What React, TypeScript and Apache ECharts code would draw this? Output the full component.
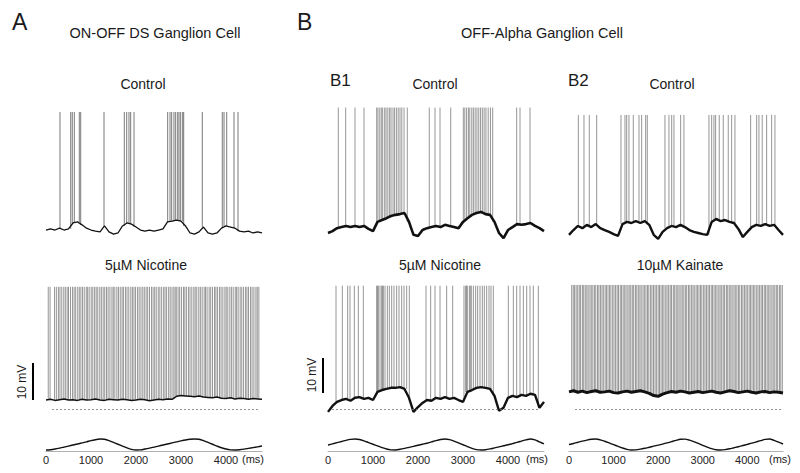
import React, { useEffect, useRef } from "react";
import * as echarts from "echarts";

// ---- time base ----
const T_MAX = 4800; // ms shown on every trace
const BASE_STEP = 100; // ms between membrane-potential samples
const TICKS = [0, 1000, 2000, 3000, 4000];

// ---- A: ON-OFF DS ganglion cell ----
const aCtrlSpikes = [311, 549, 584, 629, 740, 771, 1289, 1740, 1793, 1844, 1882, 1956, 2704, 2756, 2793, 2844, 2882, 2927, 2956, 2993, 3038, 3060, 3473, 3918, 3956, 4016, 4178, 4267];
const aCtrlBase = [5.4, 5.7, 5.4, 5.9, 5.4, 5.7, 7.3, 7.6, 6.8, 5.9, 5.4, 5.1, 4.9, 6.5, 4.9, 4.3, 4.6, 6.5, 7.3, 7.0, 6.2, 5.4, 5.1, 5.4, 5.1, 5.4, 5.7, 7.6, 7.8, 8.1, 7.8, 6.5, 4.6, 4.3, 4.9, 6.2, 4.6, 4.3, 4.6, 5.9, 6.5, 6.2, 5.9, 5.1, 4.9, 5.1, 4.6, 4.9, 4.6];
const aCtrlPeak = 37.3;

const aNicSpikes = [50, 90, 190, 230, 275, 310, 350, 395, 430, 470, 500, 545, 590, 625, 660, 705, 740, 775, 812, 850, 895, 925, 960, 1005, 1040, 1080, 1115, 1150, 1195, 1230, 1270, 1305, 1345, 1380, 1420, 1465, 1495, 1530, 1575, 1610, 1650, 1690, 1720, 1765, 1800, 1840, 1885, 1920, 1955, 1990, 2035, 2070, 2110, 2150, 2185, 2225, 2260, 2300, 2345, 2380, 2415, 2450, 2495, 2530, 2570, 2615, 2645, 2680, 2725, 2760, 2800, 2840, 2870, 2895, 2935, 2970, 3010, 3055, 3085, 3120, 3165, 3200, 3240, 3285, 3315, 3350, 3395, 3430, 3470, 3515, 3545, 3580, 3625, 3660, 3700, 3745, 3775, 3810, 3855, 3890, 3930, 3975, 4005, 4040, 4085, 4120, 4160, 4205, 4235, 4270, 4315, 4350, 4390, 4435, 4465, 4500, 4545, 4580, 4620, 4665, 4695, 4730];
const aNicBase = [2.4, 2.6, 2.3, 2.5, 2.7, 2.4, 2.5, 2.3, 2.6, 2.4, 2.5, 2.7, 2.4, 2.3, 2.6, 2.5, 2.4, 2.6, 2.5, 2.3, 2.4, 2.6, 2.5, 2.2, 2.4, 2.6, 2.5, 2.7, 2.6, 3.4, 3.6, 3.5, 3.4, 3.3, 3.5, 3.2, 3.1, 3.0, 3.2, 2.9, 2.8, 3.0, 2.7, 2.9, 2.8, 2.6, 2.8, 2.7, 2.6];
const aNicPeak = 33.0;
const aNicRest = [133, 4755];

const aStim = [0.08, 0.1, 0.15, 0.22, 0.3, 0.38, 0.46, 0.54, 0.62, 0.7, 0.8, 0.87, 0.92, 0.9, 0.8, 0.66, 0.52, 0.38, 0.24, 0.13, 0.08, 0.09, 0.15, 0.22, 0.3, 0.38, 0.46, 0.54, 0.62, 0.7, 0.78, 0.85, 0.9, 0.92, 0.9, 0.8, 0.66, 0.52, 0.38, 0.25, 0.15, 0.09, 0.08, 0.1, 0.14, 0.2, 0.26, 0.32, 0.38];

// ---- B1: OFF-alpha cell, control / nicotine ----
const b1CtrlSpikes = [229, 393, 600, 800, 1082, 1110, 1150, 1185, 1215, 1260, 1290, 1330, 1370, 1400, 1445, 1480, 1520, 1560, 1600, 1640, 1690, 1762, 2251, 2378, 2489, 2727, 3007, 3040, 3080, 3120, 3150, 3195, 3230, 3270, 3310, 3350, 3390, 3430, 3470, 3510, 3560, 3610, 3660, 4193, 4267, 4489];
const b1CtrlBase = [4.6, 5.1, 5.9, 6.2, 6.5, 6.2, 6.5, 6.2, 6.5, 5.7, 5.1, 7.6, 8.1, 8.6, 9.2, 9.5, 9.7, 10.0, 7.6, 4.1, 3.8, 5.4, 5.9, 6.2, 6.5, 6.2, 6.8, 6.5, 6.2, 5.9, 7.6, 8.6, 9.5, 10.0, 10.3, 9.7, 9.5, 7.6, 4.6, 3.2, 5.4, 6.2, 7.0, 6.8, 7.0, 7.3, 6.5, 5.9, 5.1];
const b1CtrlPeak = 38.5;

const b1NicSpikes = [178, 319, 437, 489, 585, 674, 785, 1081, 1100, 1119, 1156, 1193, 1212, 1230, 1267, 1319, 1363, 1415, 1467, 1526, 1578, 1637, 1689, 1748, 1807, 2178, 2281, 2378, 2489, 2637, 2770, 3022, 3059, 3078, 3096, 3141, 3162, 3185, 3230, 3281, 3326, 3378, 3430, 3474, 3526, 3578, 3622, 3674, 4007, 4119, 4193, 4267, 4341, 4415, 4489, 4563, 4674];
const b1NicBase = [-0.8, 0.8, 1.9, 2.4, 2.7, 2.2, 3.0, 3.2, 2.7, 3.0, 2.4, 4.6, 5.1, 5.4, 5.7, 5.7, 5.9, 5.4, 3.0, -0.8, 0.5, 1.6, 2.4, 2.2, 3.0, 2.7, 3.2, 2.7, 3.0, 2.4, 1.9, 4.6, 5.1, 5.7, 5.9, 5.7, 5.4, 3.5, -0.5, 0.3, 3.0, 3.5, 3.2, 3.8, 3.5, 4.1, 3.8, 0.3, 1.9];
const b1NicPeak = 33.3;
const b1NicRest = [89, 4711];

const b1Stim = [0.46, 0.55, 0.64, 0.73, 0.82, 0.89, 0.92, 0.88, 0.78, 0.65, 0.52, 0.39, 0.26, 0.15, 0.09, 0.08, 0.13, 0.2, 0.28, 0.36, 0.44, 0.52, 0.6, 0.7, 0.8, 0.88, 0.92, 0.87, 0.76, 0.62, 0.48, 0.34, 0.2, 0.11, 0.08, 0.1, 0.16, 0.24, 0.32, 0.4, 0.48, 0.57, 0.66, 0.76, 0.86, 0.92, 0.85, 0.7, 0.55];

// ---- B2: OFF-alpha cell, control / kainate ----
const b2CtrlSpikes = [209, 336, 455, 621, 1166, 1256, 1294, 1345, 1442, 1570, 1630, 1720, 1756, 2152, 2242, 2303, 2354, 2504, 2578, 3139, 3200, 3251, 3289, 3370, 3460, 3572, 3648, 3722, 4074, 4209, 4260, 4334, 4433, 4545, 4619];
const b2CtrlBase = [4.1, 5.4, 6.5, 5.9, 6.8, 6.2, 7.0, 5.9, 5.4, 4.9, 4.3, 3.8, 7.0, 7.6, 7.3, 7.8, 7.3, 7.8, 6.8, 4.1, 3.0, 4.9, 5.9, 6.5, 6.2, 6.8, 6.2, 5.4, 4.9, 4.6, 4.3, 4.1, 7.6, 8.4, 7.8, 8.1, 7.6, 7.3, 5.7, 3.5, 4.9, 6.2, 6.8, 6.5, 7.0, 6.5, 6.8, 5.4, 4.1];
const b2CtrlPeak = 36.5;

const b2KaiSpikes = [60, 95, 125, 160, 195, 230, 260, 300, 330, 365, 400, 430, 470, 500, 535, 570, 600, 640, 670, 705, 740, 770, 810, 840, 875, 910, 940, 980, 1010, 1045, 1080, 1110, 1150, 1180, 1215, 1250, 1280, 1320, 1350, 1385, 1420, 1450, 1490, 1520, 1555, 1590, 1620, 1660, 1690, 1725, 1760, 1790, 1830, 1860, 1895, 1930, 1960, 2000, 2030, 2065, 2100, 2130, 2170, 2200, 2235, 2270, 2300, 2340, 2370, 2405, 2440, 2470, 2510, 2540, 2575, 2610, 2640, 2680, 2710, 2745, 2780, 2810, 2850, 2880, 2915, 2950, 2980, 3020, 3050, 3085, 3120, 3150, 3190, 3220, 3255, 3290, 3320, 3360, 3390, 3425, 3460, 3490, 3530, 3560, 3595, 3630, 3660, 3700, 3730, 3765, 3800, 3830, 3870, 3900, 3935, 3970, 4000, 4040, 4070, 4105, 4140, 4170, 4210, 4240, 4275, 4310, 4340, 4380, 4410, 4445, 4480, 4510, 4550, 4580, 4615, 4650, 4680, 4720, 4750, 4785];
const b2KaiBase = [4.6, 4.9, 4.5, 4.8, 4.4, 4.7, 4.9, 4.5, 4.6, 4.8, 4.4, 4.3, 4.6, 4.8, 4.5, 4.7, 4.9, 4.6, 4.2, 3.6, 3.4, 4.0, 4.4, 4.7, 4.5, 4.8, 4.6, 4.3, 4.5, 4.7, 4.4, 4.6, 4.8, 4.5, 4.3, 4.6, 4.9, 4.7, 4.4, 4.6, 4.8, 4.5, 4.3, 4.6, 4.7, 4.4, 4.6, 4.5, 4.3];
const b2KaiPeak = 33.5;
const b2KaiRest = [135, 4800];

const b2Stim = [0.5, 0.58, 0.67, 0.76, 0.84, 0.9, 0.92, 0.86, 0.75, 0.62, 0.49, 0.36, 0.23, 0.13, 0.08, 0.09, 0.14, 0.21, 0.29, 0.37, 0.45, 0.53, 0.62, 0.72, 0.82, 0.9, 0.91, 0.84, 0.72, 0.58, 0.44, 0.3, 0.18, 0.1, 0.08, 0.11, 0.17, 0.25, 0.33, 0.42, 0.51, 0.6, 0.7, 0.8, 0.89, 0.92, 0.82, 0.68, 0.54];

const FONT = "'Liberation Sans', Arial, Helvetica, sans-serif";
const TEXT = "#1a1a1a";

// layout (pixels)
const COLS = [
  { left: 46, width: 216 },
  { left: 328, width: 216 },
  { left: 569, width: 214 },
];
const ROW_CTRL = { top: 102, height: 148, min: 0, max: 40 };
const ROW_DRUG = { top: 272, height: 148, min: -3, max: 37 };
const ROW_STIM = { top: 438, height: 13, min: 0, max: 1 };

function baseData(base: number[]) {
  return base.map((v, i) => [i * BASE_STEP, v]);
}
function spikeData(times: number[], base: number[], peak: number) {
  const out: any[] = [];
  for (const t of times) {
    const foot = base[Math.min(base.length - 1, Math.round(t / BASE_STEP))];
    out.push([t, foot], [t, peak], [t, "-"]);
  }
  return out;
}

function buildOption() {
  const grids: any[] = [];
  const xAxes: any[] = [];
  const yAxes: any[] = [];
  const series: any[] = [];

  const traces = [
    { col: 0, row: ROW_CTRL, spikes: aCtrlSpikes, base: aCtrlBase, peak: aCtrlPeak, w: 1.3, sc: "#6a6a6a" },
    { col: 0, row: ROW_DRUG, spikes: aNicSpikes, base: aNicBase, peak: aNicPeak, w: 1.5, rest: aNicRest, sc: "#8a8a8a" },
    { col: 1, row: ROW_CTRL, spikes: b1CtrlSpikes, base: b1CtrlBase, peak: b1CtrlPeak, w: 2.6, sc: "#8a8a8a" },
    { col: 1, row: ROW_DRUG, spikes: b1NicSpikes, base: b1NicBase, peak: b1NicPeak, w: 2.4, rest: b1NicRest, sc: "#8a8a8a" },
    { col: 2, row: ROW_CTRL, spikes: b2CtrlSpikes, base: b2CtrlBase, peak: b2CtrlPeak, w: 2.4, sc: "#8a8a8a" },
    { col: 2, row: ROW_DRUG, spikes: b2KaiSpikes, base: b2KaiBase, peak: b2KaiPeak, w: 3, rest: b2KaiRest, sc: "#8a8a8a" },
  ];
  const stims = [aStim, b1Stim, b2Stim];

  const addGrid = (col: number, row: any, showAxis: boolean) => {
    const idx = grids.length;
    grids.push({ left: COLS[col].left, width: COLS[col].width, top: row.top, height: row.height });
    xAxes.push({
      type: "value", gridIndex: idx, min: 0, max: T_MAX, interval: 1000,
      show: showAxis,
      axisLine: { show: showAxis, lineStyle: { color: "#b0b0b0", width: 1 } },
      axisTick: { show: false },
      splitLine: { show: false },
      axisLabel: {
        show: showAxis, color: "#222222", fontFamily: FONT, fontSize: 11, margin: 3,
        showMaxLabel: false,
        formatter: (v: number) => (TICKS.includes(v) ? String(v) : ""),
      },
    });
    yAxes.push({ type: "value", gridIndex: idx, min: row.min, max: row.max, show: false, splitLine: { show: false } });
    return idx;
  };

  traces.forEach((tr) => {
    const g = addGrid(tr.col, tr.row, false);
    series.push({
      type: "line", xAxisIndex: g, yAxisIndex: g, symbol: "none", silent: true,
      data: spikeData(tr.spikes, tr.base, tr.peak),
      lineStyle: { color: tr.sc, width: 0.9 },
    });
    const s: any = {
      type: "line", xAxisIndex: g, yAxisIndex: g, symbol: "none", silent: true,
      data: baseData(tr.base),
      lineStyle: { color: "#111111", width: tr.w },
    };
    if (tr.rest) {
      s.markLine = {
        silent: true, symbol: "none", label: { show: false },
        lineStyle: { color: "#777777", width: 0.8, type: [2, 2] },
        data: [[{ coord: [tr.rest[0], 0] }, { coord: [tr.rest[1], 0] }]],
      };
    }
    series.push(s);
  });

  stims.forEach((st, c) => {
    const g = addGrid(c, ROW_STIM, true);
    series.push({
      type: "line", xAxisIndex: g, yAxisIndex: g, symbol: "none", silent: true, smooth: 0.3,
      data: baseData(st),
      lineStyle: { color: "#111111", width: 1.4 },
    });
  });

  const txt = (text: string, x: number, y: number, size: number, align = "center", extra: any = {}) => ({
    type: "text", x, y, silent: true, ...extra,
    style: {
      text, fill: TEXT, font: `${size}px ${FONT}`,
      textAlign: align, align, textVerticalAlign: "middle", verticalAlign: "middle",
    },
  });

  const graphic = [
    txt("A", 12, 22, 23, "left"),
    txt("B", 297, 22, 23, "left"),
    txt("ON-OFF DS Ganglion Cell", 155, 33, 14.5),
    txt("OFF-Alpha Ganglion Cell", 542, 33, 14.5),
    txt("Control", 143, 84, 14),
    txt("B1", 330, 80, 17, "left"),
    txt("Control", 435, 84, 14),
    txt("B2", 568, 80, 17, "left"),
    txt("Control", 672, 84, 14),
    txt("5µM Nicotine", 146, 265, 14),
    txt("5µM Nicotine", 440, 265, 14),
    txt("10µM Kainate", 680, 265, 14),
    txt("(ms)", 253, 459, 11),
    txt("(ms)", 537, 459, 11),
    txt("(ms)", 780, 459, 11),
    { type: "line", silent: true, shape: { x1: 33, y1: 363, x2: 33, y2: 400 }, style: { stroke: "#000", lineWidth: 2 } },
    txt("10 mV", 22, 382, 12, "center", { rotation: Math.PI / 2 }),
    { type: "line", silent: true, shape: { x1: 323, y1: 358, x2: 323, y2: 393 }, style: { stroke: "#000", lineWidth: 2 } },
    txt("10 mV", 312, 375, 12, "center", { rotation: Math.PI / 2 }),
  ];

  return {
    animation: false,
    backgroundColor: "#ffffff",
    grid: grids,
    xAxis: xAxes,
    yAxis: yAxes,
    series,
    graphic,
  };
}

export default function App() {
  const ref = useRef<HTMLDivElement>(null);
  useEffect(() => {
    if (!ref.current) return;
    const chart = echarts.init(ref.current, undefined, { renderer: "svg" });
    chart.setOption(buildOption() as any);
    return () => chart.dispose();
  }, []);
  return (
    <div
      ref={ref}
      style={{ position: "fixed", left: 0, top: 0, width: 800, height: 473, background: "#fff" }}
    />
  );
}
